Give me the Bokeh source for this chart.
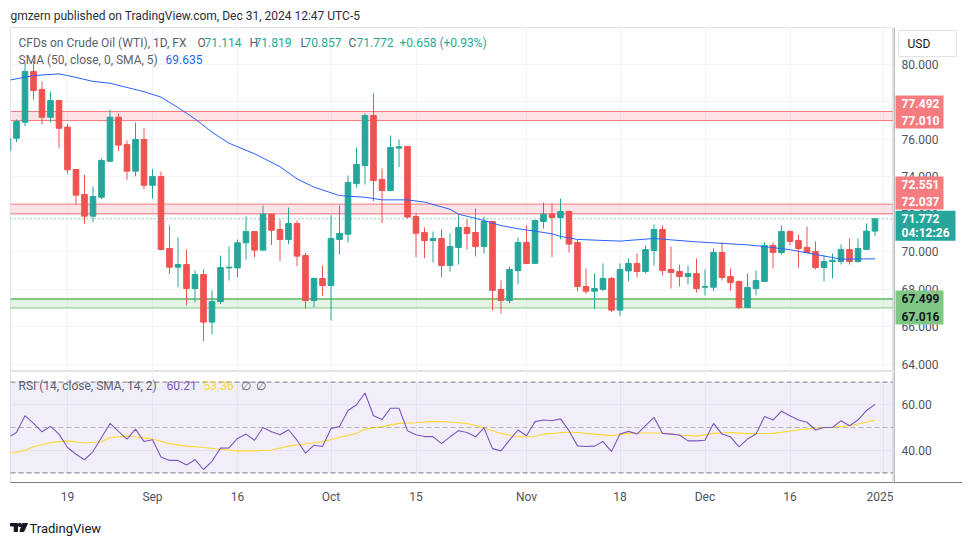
from bokeh.plotting import figure
from bokeh.layouts import column, row
from bokeh.models import (LinearAxis, FixedTicker, Range1d, Label,
                          BoxAnnotation, Span, ColumnDataSource)
from bokeh.embed import file_html
from bokeh.resources import INLINE
from bokeh.core.properties import value

# ---------------- data ----------------
opens = [75.41, 76.07, 76.92, 79.63, 78.67, 77.19, 78.08, 76.66, 74.40, 73.07,
         71.91, 72.92, 74.84, 77.19, 75.73, 74.31, 76.00, 73.56, 74.03, 70.19,
         69.19, 69.33, 68.05, 68.80, 66.26, 67.35, 69.15, 69.15, 70.49, 71.09,
         70.10, 72.02, 71.20, 70.67, 71.52, 69.81, 67.41, 68.59, 68.21, 70.67,
         70.95, 73.65, 74.61, 77.28, 73.87, 73.28, 75.54, 75.63, 71.89, 71.04,
         70.61, 70.72, 69.28, 70.24, 71.31, 71.04, 70.29, 71.63, 68.00, 67.41,
         69.01, 70.51, 69.39, 71.63, 72.02, 71.84, 72.16, 70.50, 68.16, 67.91,
         68.01, 68.59, 66.90, 68.99, 69.39, 68.96, 70.08, 71.20, 69.07, 68.96,
         68.69, 68.85, 68.12, 68.12, 69.97, 68.69, 68.43, 67.04, 68.05, 68.43,
         70.35, 69.97, 71.09, 70.61, 70.24, 70.03, 69.17, 69.49, 69.49, 70.13,
         69.49, 70.13, 71.114]
highs = [76.30, 77.07, 80.10, 80.20, 79.09, 78.56, 78.10, 76.84, 74.40, 74.12,
         73.49, 75.00, 77.58, 77.40, 75.95, 76.91, 76.59, 74.42, 74.29, 71.41,
         70.79, 70.13, 69.01, 69.07, 67.95, 69.81, 70.29, 70.67, 71.89, 71.10,
         72.48, 72.05, 71.73, 72.37, 71.68, 69.96, 68.60, 69.28, 71.95, 72.48,
         74.08, 75.57, 77.39, 78.45, 74.45, 76.21, 76.00, 75.65, 72.07, 71.31,
         71.09, 71.20, 70.99, 72.00, 71.73, 72.32, 71.89, 71.65, 68.48, 69.23,
         70.77, 71.41, 71.72, 72.64, 72.59, 72.85, 72.20, 70.64, 69.12, 68.85,
         69.39, 68.67, 69.39, 69.65, 69.92, 70.35, 71.47, 71.41, 70.29, 69.33,
         69.28, 69.65, 69.07, 70.19, 70.51, 69.12, 68.48, 68.85, 69.01, 70.51,
         70.51, 71.41, 71.15, 70.93, 71.36, 70.56, 69.81, 69.92, 70.40, 70.72,
         70.72, 71.52, 71.819]
lows = [75.20, 75.86, 76.71, 78.13, 76.80, 76.92, 75.54, 74.17, 72.53, 71.50,
        71.59, 72.82, 74.80, 75.38, 73.85, 74.04, 73.35, 72.85, 70.08, 68.82,
        68.12, 67.15, 67.32, 65.24, 65.60, 67.22, 68.48, 68.66, 69.60, 69.72,
        70.08, 70.38, 69.51, 70.42, 69.24, 66.97, 67.06, 67.64, 66.35, 69.87,
        70.51, 73.44, 73.60, 72.71, 71.54, 73.25, 74.52, 71.80, 69.72, 69.67,
        69.44, 68.66, 68.96, 69.33, 70.13, 69.76, 69.92, 66.88, 66.72, 67.25,
        68.27, 69.35, 69.35, 71.25, 69.72, 70.67, 69.97, 67.91, 67.77, 66.95,
        67.91, 66.79, 66.58, 68.44, 68.64, 68.85, 69.28, 68.75, 68.05, 68.16,
        68.27, 67.84, 67.68, 67.91, 68.48, 67.95, 66.95, 67.00, 67.68, 68.40,
        69.12, 69.87, 70.35, 69.17, 69.95, 69.07, 68.43, 68.59, 69.33, 69.33,
        69.44, 70.13, 70.857]
closes = [76.07, 76.96, 79.63, 78.61, 77.19, 78.08, 76.60, 74.38, 73.03, 71.91,
          72.96, 74.88, 77.19, 75.70, 74.31, 76.00, 73.56, 74.03, 70.13, 69.19,
          69.33, 68.05, 68.80, 66.26, 67.35, 69.17, 69.19, 70.49, 71.09, 70.10,
          72.02, 71.16, 70.67, 71.52, 69.78, 67.41, 68.59, 68.21, 70.72, 70.99,
          73.71, 74.67, 77.28, 73.81, 73.28, 75.57, 75.61, 71.86, 71.00, 70.61,
          70.72, 69.28, 70.29, 71.31, 70.99, 70.29, 71.63, 67.95, 67.41, 69.07,
          70.51, 69.39, 71.68, 72.02, 71.84, 72.16, 70.42, 68.16, 67.91, 68.05,
          68.59, 66.90, 69.07, 69.39, 68.96, 70.13, 71.20, 69.01, 68.91, 68.69,
          68.85, 68.05, 68.16, 69.97, 68.64, 68.37, 67.04, 68.11, 68.48, 70.35,
          69.97, 71.09, 70.56, 70.19, 69.97, 69.17, 69.49, 69.56, 70.13, 69.49,
          70.19, 71.114, 71.772]

sma_idx = [0, 3, 6, 7, 10, 12, 16, 18, 20, 22, 24, 26, 29, 32, 34, 36, 39, 42, 44, 47,
           49, 52, 53, 56, 58, 60, 62, 64, 65, 67, 72, 76, 81, 87, 89, 92, 95, 98, 102]
sma_val = [79.15, 79.41, 79.50, 79.41, 79.10, 79.00, 78.55, 78.26, 77.70, 77.10,
           76.39, 75.80, 75.24, 74.55, 73.90, 73.46, 73.01, 72.92, 72.78, 72.78,
           72.66, 72.28, 72.02, 71.68, 71.41, 71.24, 71.11, 70.97, 70.83, 70.67,
           70.58, 70.72, 70.54, 70.38, 70.29, 70.12, 69.87, 69.62, 69.635]

rsi = [45.6, 47.8, 55.2, 51.8, 48.1, 50.5, 47.1, 41.2, 38.2, 35.8,
       39.4, 45.6, 51.8, 48.3, 44.9, 49.3, 43.8, 44.6, 37.0, 35.5,
       35.5, 33.5, 35.8, 31.5, 35.1, 40.9, 41.0, 45.2, 47.1, 44.4,
       50.0, 48.1, 46.8, 49.0, 44.4, 38.7, 42.2, 41.6, 49.6, 50.4,
       57.5, 60.0, 65.2, 55.2, 53.5, 58.5, 58.5, 48.6, 46.8, 46.0,
       46.0, 42.9, 45.9, 48.6, 47.8, 45.9, 49.8, 40.7, 39.7, 44.4,
       48.9, 46.4, 52.6, 53.3, 53.0, 53.8, 48.6, 41.9, 41.6, 41.8,
       43.8, 39.4, 47.1, 48.3, 47.1, 50.8, 54.5, 47.4, 47.1, 46.7,
       44.1, 44.1, 44.4, 51.8, 47.1, 45.9, 41.5, 44.9, 47.1, 54.8,
       53.3, 57.2, 55.2, 53.3, 52.3, 48.9, 50.0, 50.0, 53.0, 50.8,
       53.3, 57.5, 60.21]

rsi_ma_idx = [0, 2, 3, 4, 5, 7, 9, 11, 12, 14, 15, 17, 19, 21, 23, 25, 27, 29, 31, 33,
              35, 37, 39, 41, 42, 44, 46, 48, 50, 52, 54, 56, 58, 60, 62, 63, 66, 67, 69,
              71, 73, 74, 77, 79, 81, 83, 85, 87, 90, 93, 95, 97, 99, 101, 102]
rsi_ma_val = [38.5, 39.9, 41.5, 42.4, 43.4, 44.1, 43.2, 43.7, 45.6, 46.2, 45.9, 44.9,
              42.9, 41.8, 41.2, 40.4, 39.7, 39.7, 40.1, 41.8, 42.7, 43.8, 45.6, 47.4,
              49.3, 50.4, 51.8, 52.1, 52.7, 52.4, 51.8, 49.9, 47.4, 45.9, 46.0, 47.1,
              48.0, 47.8, 47.1, 46.4, 47.4, 47.6, 47.6, 46.7, 46.2, 47.4, 47.8, 47.3,
              47.4, 48.9, 49.8, 50.1, 50.8, 52.3, 53.36]

resist_1 = (77.010, 77.492)
resist_2 = (72.037, 72.551)
support_1 = (67.016, 67.499)
countdown = "04:12:26"

price_ticks = [64, 66, 68, 70, 72, 74, 76, 78, 80]
rsi_ticks = [40, 60]
time_tick_idx = [7, 17, 27, 38, 48, 61, 72, 82, 92, 103]
time_tick_lab = ["19", "Sep", "16", "Oct", "15", "Nov", "18", "Dec", "16", "2025"]

# ---------------- styling / layout ----------------
FONT = "Roboto"
UP, DOWN = "#26a69a", "#ef5350"
GRID = "#f0f3fa"
AXC = "#50535e"
LEG = "#5d606b"
AXLINE = "#787b86"
TOTAL_W = 962
LEFT = 10
FRAME_W = 883
SCALE_W = TOTAL_W - LEFT - FRAME_W
BAR_PX = 8.5
X0 = (LEFT - 7.5) / BAR_PX
X1 = X0 + FRAME_W / BAR_PX
P_H = 344
Y1 = 81.973
PXU = 18.75                      # pixels per price unit
Y0 = Y1 - P_H / PXU
R_FRAME_H, R_AX_H = 111, 26
RSI_PXU = 2.27
R_Y1 = 50 + (427 - 371) / RSI_PXU
R_Y0 = R_Y1 - R_FRAME_H / RSI_PXU

n = len(closes)
idx = list(range(n))
col = [UP if c >= o else DOWN for o, c in zip(opens, closes)]
src = ColumnDataSource(dict(x=idx, o=opens, h=highs, l=lows, c=closes,
                            top=[max(a, b) for a, b in zip(opens, closes)],
                            bot=[min(a, b) for a, b in zip(opens, closes)],
                            col=col))


def lab(fig, x, y, text, color, size="12px", bold=False):
    fig.add_layout(Label(x=x, y=y, x_units="screen", y_units="screen", text=text,
                         text_color=color, text_font=FONT, text_font_size=size,
                         text_baseline="middle", text_align="left",
                         text_font_style="bold" if bold else "normal"))


def blank(w, h, **kw):
    f = figure(width=w, height=h, output_backend="svg", toolbar_location=None,
               x_axis_location=None, y_axis_location=None, **kw)
    f.grid.visible = False
    f.outline_line_color = None
    return f


# header
head = blank(TOTAL_W, 27, x_range=Range1d(0, TOTAL_W), y_range=Range1d(0, 27), min_border=0)
lab(head, LEFT, 12, "gmzern published on TradingView.com, Dec 31, 2024 12:47 UTC-5", "#2a2e39", "12px")

# ---- price pane ----
p = figure(width=LEFT + FRAME_W, height=P_H, x_range=Range1d(X0, X1), y_range=Range1d(Y0, Y1),
           output_backend="svg", toolbar_location=None,
           min_border_left=LEFT, min_border_right=0, min_border_top=0, min_border_bottom=0,
           x_axis_location=None, y_axis_location=None)
p.outline_line_color = "#e0e3eb"
p.xgrid.ticker = FixedTicker(ticks=time_tick_idx)
p.ygrid.ticker = FixedTicker(ticks=price_ticks)
p.grid.grid_line_color = GRID

for (lo, hi), fc, lc, tw in [(resist_1, "#f23645", "#f7767b", 1), (resist_2, "#f23645", "#f7767b", 1),
                            (support_1, "#4caf50", "#81c784", 2)]:
    p.add_layout(BoxAnnotation(bottom=lo, top=hi, fill_color=fc, fill_alpha=0.14,
                               line_color=None, level="underlay"))
    p.add_layout(Span(location=hi, dimension="width", line_color=lc, line_width=tw, level="underlay"))
    p.add_layout(Span(location=lo, dimension="width", line_color=lc, line_width=1, level="underlay"))

p.segment(x0="x", y0="l", x1="x", y1="h", line_color="col", line_width=1, source=src)
p.vbar(x="x", width=0.66, top="top", bottom="bot", fill_color="col", line_color="col",
       line_width=1, source=src)
p.line(sma_idx, sma_val, line_color="#2962ff", line_width=1)
p.add_layout(Span(location=closes[-1], dimension="width", line_color=UP, line_width=1,
                  line_dash="1 3"))

# legends (positions in px from the pane's left / bottom)
LY1, LY2 = P_H - 15, P_H - 32
lab(p, 8, LY1, "CFDs on Crude Oil (WTI), 1D, FX", LEG)
for xx, t in [(187, "O"), (239, "H"), (290, "L"), (338, "C")]:
    lab(p, xx, LY1, t, LEG)
for xx, v in [(194, opens[-1]), (244, highs[-1]), (294, lows[-1]), (346, closes[-1])]:
    lab(p, xx, LY1, "%.3f" % v, "#22ab94")
chg = closes[-1] - closes[-2]
lab(p, 389, LY1, "+%.3f (+%.2f%%)" % (chg, chg / closes[-2] * 100), "#22ab94")
lab(p, 8, LY2, "SMA (50, close, 0, SMA, 5)", LEG)
lab(p, 155, LY2, "%.3f" % sma_val[-1], "#2962ff")

# ---- price scale (right) ----
ps = blank(SCALE_W, P_H, x_range=Range1d(0, SCALE_W), y_range=p.y_range, min_border=0)
ps.add_layout(Span(location=0.5, dimension="height", line_color=AXLINE, line_width=1))
ps.text(x=[8] * len(price_ticks), y=price_ticks, text=["%.3f" % t for t in price_ticks],
        text_font=value(FONT), text_font_size="12px", text_color=AXC,
        text_baseline="middle", text_align="left")

# USD box (top of the scale)
usd_y = Y1 - 16 / PXU
ps.rect(x=[34], y=[usd_y], width=[58], height=[26], height_units="screen",
        fill_color="white", line_color="#e0e3eb")
ps.text(x=[14], y=[usd_y], text=["USD"], text_font=value(FONT), text_font_size="12px",
        text_color="#131722", text_baseline="middle", text_align="left")

# zone / last-price tags
tags = [  # (upper text, lower text, anchor price, px shift up, bg, fg, width, height, line gap)
    ("%.3f" % resist_1[1], "%.3f" % resist_1[0], sum(resist_1) / 2, 4, "#f77c80", "white", 48, 33, 17),
    ("%.3f" % resist_2[1], "%.3f" % resist_2[0], sum(resist_2) / 2, 16, "#f77c80", "white", 48, 33, 17),
    ("%.3f" % closes[-1], countdown, closes[-1], -7, UP, "white", 60, 30, 15),
    ("%.3f" % support_1[1], "%.3f" % support_1[0], sum(support_1) / 2, -4, "#81c784", "#131722", 48, 34, 18),
]
for t1, t2, anchor, shift, bg, fg, w, h, gap in tags:
    cy = anchor + shift / PXU
    ps.rect(x=[2 + w / 2], y=[cy], width=[w], height=[h], height_units="screen",
            fill_color=bg, line_color=None)
    ps.text(x=[8, 8], y=[cy + gap / 2 / PXU, cy - gap / 2 / PXU], text=[t1, t2],
            text_font=value(FONT), text_font_size="12px", text_font_style="bold",
            text_color=fg, text_baseline="middle", text_align="left")

# ---- RSI pane ----
R_H = R_FRAME_H + R_AX_H
r = figure(width=LEFT + FRAME_W, height=R_H, x_range=p.x_range, y_range=Range1d(R_Y0, R_Y1),
           output_backend="svg", toolbar_location=None,
           min_border_left=LEFT, min_border_right=0, min_border_top=0, min_border_bottom=R_AX_H,
           x_axis_location=None, y_axis_location=None)
r.outline_line_color = "#e0e3eb"
r.xgrid.ticker = FixedTicker(ticks=time_tick_idx)
r.ygrid.ticker = FixedTicker(ticks=rsi_ticks)
r.grid.grid_line_color = GRID

xa = LinearAxis(ticker=FixedTicker(ticks=time_tick_idx),
                major_label_overrides={i: t for i, t in zip(time_tick_idx, time_tick_lab)})
xa.major_tick_line_color = None
xa.minor_tick_line_color = None
xa.major_tick_out = 0
xa.major_label_standoff = 7
xa.axis_line_color = AXLINE
xa.major_label_text_color = AXC
xa.major_label_text_font = FONT
xa.major_label_text_font_size = "12px"
r.add_layout(xa, "below")

r.add_layout(BoxAnnotation(bottom=30, top=70, fill_color="#7e57c2", fill_alpha=0.1,
                           line_color=None, level="underlay"))
for lvl, a in [(70, 1.0), (50, 0.5), (30, 1.0)]:
    r.add_layout(Span(location=lvl, dimension="width", line_color=AXLINE, line_alpha=a,
                      line_dash="5 3", line_width=1))
r.line(rsi_ma_idx, rsi_ma_val, line_color="#fdd835", line_width=1.1)
r.line(idx, rsi, line_color="#7e57c2", line_width=1.1)

RLY = R_FRAME_H - 14
lab(r, 8, RLY, "RSI (14, close, SMA, 14, 2)", LEG)
lab(r, 156, RLY, "%.2f" % rsi[-1], "#7e57c2")
lab(r, 193, RLY, "%.2f" % rsi_ma_val[-1], "#fdd835")
lab(r, 230, RLY, "\u2205", LEG)
lab(r, 245, RLY, "\u2205", LEG)

# ---- RSI scale (right) ----
rs = figure(width=SCALE_W, height=R_H, x_range=Range1d(0, SCALE_W), y_range=r.y_range,
            output_backend="svg", toolbar_location=None, min_border_left=0, min_border_right=0,
            min_border_top=0, min_border_bottom=R_AX_H, x_axis_location=None, y_axis_location=None)
rs.grid.visible = False
rs.outline_line_color = None
ra = LinearAxis(ticker=FixedTicker(ticks=[]), major_label_text_font_size="0px")
ra.axis_line_color = AXLINE
ra.major_tick_line_color = None
ra.minor_tick_line_color = None
rs.add_layout(ra, "below")
rs.add_layout(Span(location=0.5, dimension="height", line_color=AXLINE, line_width=1))
rs.text(x=[8] * len(rsi_ticks), y=rsi_ticks, text=["%.2f" % t for t in rsi_ticks],
        text_font=value(FONT), text_font_size="12px", text_color=AXC,
        text_baseline="middle", text_align="left")

# ---- footer ----
foot = blank(TOTAL_W, 36, x_range=Range1d(0, TOTAL_W), y_range=Range1d(0, 36), min_border=0)
foot.patch([10, 17, 17, 13.7, 13.7, 10], [21, 21, 13, 13, 18.5, 18.5], color="#131722")
foot.scatter([19.3], [19.6], size=3.4, color="#131722")
foot.patch([22, 27, 23.2, 19.4], [21, 21, 13, 13], color="#131722")
lab(foot, 29, 16.5, "TradingView", "#131722", "13px")

layout = column(head, row(p, ps, spacing=0), row(r, rs, spacing=0), foot, spacing=0)
open("out.html", "w").write(file_html(layout, INLINE))
